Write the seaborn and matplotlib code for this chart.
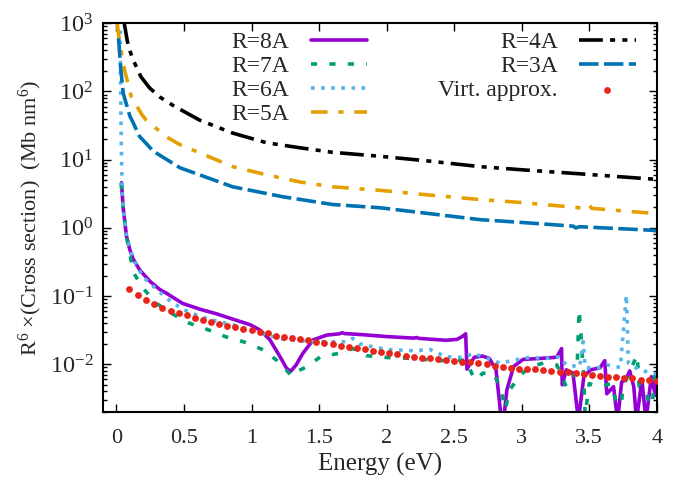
import numpy as np
import matplotlib
matplotlib.use("Agg")
import matplotlib.pyplot as plt
import matplotlib.ticker as mticker
import seaborn as sns

# energies (eV) and R^6 * cross section (Mb nm^6)
r8_x = [0.037, 0.049, 0.074, 0.10, 0.123, 0.173, 0.247, 0.32, 0.37, 0.49, 0.62, 0.74, 0.86, 0.99,
        1.06, 1.135, 1.21, 1.26, 1.29, 1.33, 1.38, 1.456, 1.556, 1.65, 1.67, 1.69, 1.80, 2.0, 2.20,
        2.22, 2.24, 2.44, 2.52, 2.56, 2.585, 2.595, 2.62, 2.65, 2.71, 2.76, 2.81, 2.85, 2.87, 2.89,
        2.94, 3.01, 3.14, 3.26, 3.295, 3.30, 3.33, 3.38, 3.42, 3.46, 3.51, 3.58, 3.615, 3.63, 3.68,
        3.71, 3.74, 3.77, 3.80, 3.83, 3.85, 3.89, 3.92, 3.96, 3.99, 4.0]
r8_y = [4.6, 2.0, 0.75, 0.47, 0.35, 0.24, 0.165, 0.125, 0.11, 0.078, 0.064, 0.055, 0.046, 0.038,
        0.032, 0.023, 0.013, 0.0087, 0.0079, 0.0098, 0.0145, 0.0228, 0.0268, 0.028, 0.029, 0.0282,
        0.0274, 0.0255, 0.0242, 0.0247, 0.024, 0.0225, 0.0232, 0.0255, 0.028, 0.0085, 0.0104, 0.0127,
        0.0132, 0.0122, 0.0083, 0.0015, 0.0018, 0.0042, 0.0093, 0.0118, 0.0122, 0.0127, 0.017, 0.005,
        0.0083, 0.0074, 0.0015, 0.0066, 0.0083, 0.0089, 0.0113, 0.0037, 0.0047, 0.0015, 0.0055,
        0.0059, 0.008, 0.0047, 0.0015, 0.0059, 0.0015, 0.0066, 0.0035, 0.006]

r7_x = [0.035, 0.049, 0.074, 0.10, 0.123, 0.197, 0.296, 0.42, 0.54, 0.68, 0.81, 0.94, 1.09, 1.185,
        1.30, 1.33, 1.41, 1.51, 1.65, 1.75, 1.85, 2.0, 2.15, 2.27, 2.39, 2.52, 2.59, 2.64, 2.67, 2.71,
        2.79, 2.84, 2.88, 2.91, 2.99, 3.06, 3.16, 3.26, 3.33, 3.41, 3.425, 3.44, 3.46, 3.47, 3.50,
        3.58, 3.66, 3.73, 3.75, 3.855, 3.87, 3.92, 3.96, 3.99]
r7_y = [4.5, 2.0, 0.75, 0.41, 0.225, 0.13, 0.078, 0.054, 0.040, 0.032, 0.0253, 0.0214, 0.0162,
        0.0115, 0.0067, 0.0078, 0.0092, 0.0129, 0.0145, 0.017, 0.0134, 0.0126, 0.0123, 0.0118, 0.0113,
        0.0115, 0.0115, 0.0066, 0.0059, 0.0074, 0.0074, 0.0047, 0.0022, 0.0042, 0.0069, 0.0092,
        0.0104, 0.0098, 0.0047, 0.0083, 0.063, 0.025, 0.0059, 0.0018, 0.0052, 0.0047, 0.0052, 0.0018,
        0.0047, 0.0137, 0.0047, 0.0042, 0.0018, 0.0083]

r6_x = [0.027, 0.031, 0.035, 0.039, 0.043, 0.049, 0.074, 0.123, 0.197, 0.37, 0.49, 0.62, 0.74, 0.86,
        0.99, 1.11, 1.23, 1.31, 1.43, 1.60, 1.70, 1.75, 1.80, 1.90, 2.0, 2.20, 2.32, 2.44, 2.57, 2.64,
        2.71, 2.84, 2.94, 3.06, 3.18, 3.28, 3.33, 3.43, 3.455, 3.47, 3.55, 3.63, 3.73, 3.775, 3.79,
        3.87, 3.97, 4.0]
r6_y = [1100, 100, 20, 7, 3.5, 2.0, 0.75, 0.35, 0.19, 0.093, 0.064, 0.050, 0.043, 0.038, 0.032,
        0.027, 0.0234, 0.0227, 0.0214, 0.0214, 0.0214, 0.024, 0.020, 0.018, 0.0165, 0.0158, 0.0165,
        0.0129, 0.0126, 0.0145, 0.0129, 0.0104, 0.0115, 0.0126, 0.0122, 0.0129, 0.0098, 0.0092,
        0.0215, 0.009, 0.0087, 0.0098, 0.0090, 0.103, 0.0104, 0.0083, 0.0074, 0.0072]

r5_x = [0.005, 0.024, 0.06, 0.11, 0.19, 0.22, 0.37, 0.47, 0.615, 0.86, 1.11, 1.36, 1.6, 1.95, 2.3,
        2.69, 3.0, 3.43, 3.48, 3.5, 3.52, 3.93, 4.0]
r5_y = [1000, 500, 205, 83, 45, 38, 21.5, 16.6, 12.6, 7.9, 6.0, 4.7, 4.0, 3.55, 3.05, 2.6, 2.35,
        1.97, 1.95, 2.15, 1.93, 1.66, 1.62]

r4_x = [0.055, 0.06, 0.08, 0.10, 0.12, 0.18, 0.244, 0.32, 0.42, 0.615, 0.86, 1.11, 1.36, 1.6, 1.95,
        2.3, 2.69, 3.0, 3.43, 3.93, 4.0]
r4_y = [1100, 930, 550, 390, 300, 165, 113, 83, 62, 38, 24.5, 17.7, 14.9, 12.8, 11.2, 9.6, 7.9,
        7.1, 6.2, 5.25, 5.15]

r3_x = [0.015, 0.02, 0.03, 0.05, 0.10, 0.12, 0.17, 0.27, 0.30, 0.47, 0.86, 1.23, 1.6, 1.95, 2.04,
        2.69, 3.0, 3.38, 3.40, 3.43, 3.93, 4.0]
r3_y = [600, 450, 230, 93, 43, 36, 22, 13.5, 12.3, 7.6, 4.0, 2.86, 2.2, 1.97, 1.88, 1.32, 1.2,
        1.06, 1.0, 1.04, 0.93, 0.91]

virt_x = [0.09, 0.16, 0.22, 0.28, 0.34, 0.40, 0.46, 0.52, 0.58, 0.64, 0.70, 0.76, 0.82, 0.88,
          0.94, 1.00, 1.06, 1.12, 1.18, 1.24, 1.30, 1.36, 1.42, 1.48, 1.54, 1.60, 1.66, 1.72,
          1.78, 1.84, 1.90, 1.96, 2.02, 2.08, 2.14, 2.20, 2.26, 2.32, 2.38, 2.44, 2.50, 2.56,
          2.62, 2.68, 2.74, 2.80, 2.86, 2.92, 2.98, 3.04, 3.10, 3.16, 3.22, 3.28, 3.34, 3.40,
          3.46, 3.52, 3.58, 3.64, 3.70, 3.76, 3.82, 3.88, 3.94, 4.00]
virt_y = [0.126, 0.103, 0.087, 0.076, 0.067, 0.061, 0.056, 0.052, 0.048, 0.0445, 0.042, 0.039,
          0.0367, 0.0347, 0.033, 0.0315, 0.0297, 0.0284, 0.026, 0.0254, 0.024, 0.0233, 0.0224,
          0.0215, 0.0208, 0.0198, 0.0187, 0.0177, 0.0171, 0.0165, 0.0158, 0.0153, 0.0148, 0.0141,
          0.0132, 0.0129, 0.0123, 0.0122, 0.0118, 0.0116, 0.0113, 0.0109, 0.0107, 0.0104, 0.0100,
          0.0095, 0.0092, 0.0089, 0.0086, 0.0085, 0.0085, 0.0083, 0.0081, 0.0078, 0.0076, 0.0074,
          0.0072, 0.0070, 0.0067, 0.0066, 0.0065, 0.0063, 0.0062, 0.0059, 0.0059, 0.0057]

x_ticks = [0, 0.5, 1, 1.5, 2, 2.5, 3, 3.5, 4]

sns.set_theme(style="ticks")
plt.rcParams["font.family"] = ["Liberation Serif", "DejaVu Serif"]
plt.rcParams["mathtext.fontset"] = "custom"
plt.rcParams["mathtext.rm"] = "Liberation Serif"
plt.rcParams["mathtext.it"] = "Liberation Serif:italic"
plt.rcParams["font.size"] = 16

fig = plt.figure(figsize=(6.82, 4.83), dpi=100)
ax = fig.add_axes([0.151, 0.147, 0.812, 0.805])

lw = 2.6
series = [
    (r8_x, r8_y, "R=8A", "#9400d3", "-"),
    (r7_x, r7_y, "R=7A", "#009e73", (0, (1.7, 3.4))),
    (r6_x, r6_y, "R=6A", "#56b4e9", (0, (1.0, 1.8))),
    (r5_x, r5_y, "R=5A", "#e69f00", (0, (4.6, 3.0, 1.4, 3.0))),
    (r4_x, r4_y, "R=4A", "black", (0, (6.6, 2.0, 1.4, 2.0, 1.4, 2.0))),
    (r3_x, r3_y, "R=3A", "#0072b2", (0, (5.4, 1.5))),
]
for xs, ys, name, col, ls in series:
    sns.lineplot(x=xs, y=ys, ax=ax, color=col, lw=lw, linestyle=ls,
                 label=name, estimator=None, sort=False)

sns.scatterplot(x=virt_x, y=virt_y, ax=ax, color="#e8251a", s=24, linewidth=0,
                label="Virt. approx.", zorder=5)

ax.set_yscale("log")
ax.set_xlim(-0.1, 4)
ax.set_ylim(2e-3, 1e3)
ax.set_xticks(x_ticks)
ax.xaxis.set_major_formatter(mticker.FuncFormatter(lambda v, p: "%g" % v))
ax.yaxis.set_major_locator(mticker.LogLocator(base=10, numticks=10))
ax.yaxis.set_minor_locator(mticker.LogLocator(base=10, subs=np.arange(2, 10), numticks=20))
ax.yaxis.set_minor_formatter(mticker.NullFormatter())
ax.yaxis.set_major_formatter(mticker.FuncFormatter(
    lambda v, p: "$10^{%d}$" % int(round(np.log10(v)))))

ax.tick_params(which="both", direction="in", top=True, right=True, labelsize=16, color="black")
ax.tick_params(axis="y", labelsize=17.5, pad=7)
ax.tick_params(which="major", length=6, width=1)
ax.tick_params(which="minor", length=3, width=1)
ax.tick_params(axis="x", pad=12)
for sp in ax.spines.values():
    sp.set_linewidth(1.5)
    sp.set_color("black")

ax.set_xlabel("Energy (eV)", fontsize=18, labelpad=4)
ax.set_ylabel("R$^{6}$ ×(Cross section)  (Mb nm$^{6}$)", fontsize=16, labelpad=4)

ax.legend(ncol=2, loc="upper right", bbox_to_anchor=(0.962, 0.978), frameon=False,
          markerfirst=False, fontsize=17, handlelength=2.4, handletextpad=0.9,
          columnspacing=3.0, labelspacing=0.1, borderpad=0, borderaxespad=0)

fig.savefig("out.png", dpi=100)
